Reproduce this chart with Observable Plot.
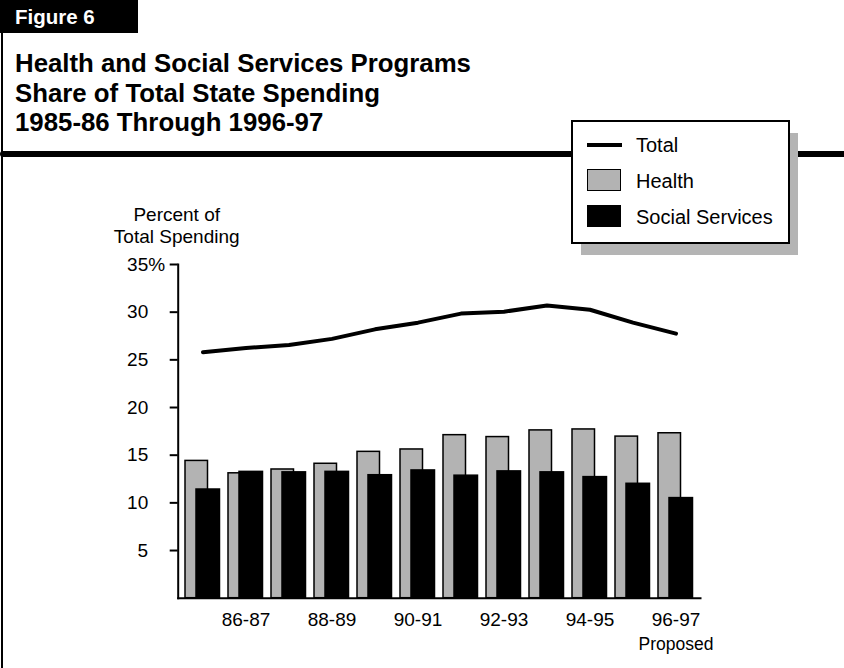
<!DOCTYPE html>
<html>
<head>
<meta charset="utf-8">
<script src="https://cdn.jsdelivr.net/npm/d3@7"></script>
<script src="https://cdn.jsdelivr.net/npm/@observablehq/plot@0.6"></script>
<style>
  html, body { margin: 0; padding: 0; background: #fff; }
  body { font-family: "Liberation Sans", Arial, Helvetica, sans-serif; color: #000; }
  #wrap { position: relative; width: 844px; height: 668px; overflow: hidden; }
  #chart { position: absolute; left: 0; top: 0; }
  .abs { position: absolute; }
  #figtab { left: 0; top: 0; width: 138px; height: 33px; background: #000; }
  #figtab span { position: absolute; left: 15px; top: 5px; color: #fff; font-weight: bold; font-size: 20.5px; line-height: 24px; }
  #leftline { left: 1px; top: 0; width: 2px; height: 668px; background: #000; }
  #title { left: 15px; top: 49px; font-weight: bold; font-size: 25.8px; line-height: 29.5px; white-space: nowrap; }
  #rule { left: 0; top: 151px; width: 844px; height: 6px; background: #000; border-radius: 3px 0 0 3px; }
  #shadow { left: 581px; top: 133px; width: 217px; height: 122px; background: #b4b4b4; }
  #legend { left: 571px; top: 120px; width: 215px; height: 120px; background: #fff; border: 2px solid #000; }
  .li { position: absolute; left: 63px; font-size: 20px; line-height: 24px; white-space: nowrap; }
  .sym { position: absolute; }
</style>
</head>
<body>
<div id="wrap">
  <div id="chart"></div>
  <div class="abs" id="leftline"></div>
  <div class="abs" id="figtab"><span>Figure 6</span></div>
  <div class="abs" id="title">Health and Social Services Programs<br>Share of Total State Spending<br>1985-86 Through 1996-97</div>
  <div class="abs" id="rule"></div>
  <div class="abs" id="shadow"></div>
  <div class="abs" id="legend"></div>
</div>
<script>
// ---- data ----
const years = ["85-86","86-87","87-88","88-89","89-90","90-91","91-92","92-93","93-94","94-95","95-96","96-97"];
const health = [14.4, 13.1, 13.5, 14.1, 15.35, 15.6, 17.1, 16.9, 17.6, 17.7, 16.95, 17.3];
const social = [11.4, 13.25, 13.2, 13.25, 12.9, 13.4, 12.85, 13.3, 13.2, 12.7, 12.0, 10.5];
const total  = [25.8, 26.25, 26.55, 27.2, 28.2, 28.9, 29.85, 30.05, 30.7, 30.25, 28.9, 27.75];
const xTicks = ["86-87","88-89","90-91","92-93","94-95","96-97"];
const yTicks = [5, 10, 15, 20, 25, 30, 35];
const yLabel = "Percent of\nTotal Spending";
const proposedNote = "Proposed";
const legendItems = [
  {name: "Total", kind: "line", color: "#000"},
  {name: "Health", kind: "box", color: "#b3b3b3"},
  {name: "Social Services", kind: "box", color: "#000"}
];

const rows = years.map((y, i) => ({year: y, health: health[i], social: social[i], total: total[i]}));

const chart = Plot.plot({
  width: 844,
  height: 668,
  marginLeft: 177.7,
  marginRight: 144,
  marginTop: 264,
  marginBottom: 70.3,
  style: {fontFamily: '"Liberation Sans", Arial, sans-serif', fontSize: "19px", background: "transparent", color: "#000"},
  x: {type: "band", domain: years, padding: 0, axis: null},
  y: {domain: [0, 35], axis: null},
  marks: [
    Plot.barY(rows, {x: "year", y: "health", fill: "#b3b3b3", stroke: "#000", strokeWidth: 1.5, insetLeft: 4, insetRight: 16.5}),
    Plot.barY(rows, {x: "year", y: "social", fill: "#000", stroke: "#000", strokeWidth: 1.5, insetLeft: 15, insetRight: 4.5}),
    Plot.line(rows, {x: "year", y: "total", stroke: "#000", strokeWidth: 4, strokeLinejoin: "round"}),
    Plot.axisY({ticks: yTicks, tickSize: 8, tickPadding: 22, strokeWidth: 2, fontSize: 19, label: null}),
    Plot.text([35], {y: d => d, text: () => "%", frameAnchor: "left", textAnchor: "start", dx: -30, fontSize: 19}),
    Plot.axisX({ticks: xTicks, tickSize: 0, tickPadding: 14, fontSize: 19, label: null}),
    Plot.text(["96-97"], {x: d => d, text: () => proposedNote, frameAnchor: "bottom", lineAnchor: "top", dy: 39, fontSize: 17.5}),
    Plot.text([yLabel], {text: d => d, frameAnchor: "top-left", textAnchor: "middle", lineAnchor: "bottom", dy: -22, dx: -1.5, lineHeight: 1.15, fontSize: 19}),
    Plot.frame({anchor: "left", strokeWidth: 2}),
    Plot.frame({anchor: "bottom", strokeWidth: 2})
  ]
});
document.getElementById("chart").appendChild(chart);

// legend (HTML)
const leg = document.getElementById("legend");
const tops = [11, 47, 83];
legendItems.forEach((it, i) => {
  const s = document.createElement("div");
  s.className = "sym";
  if (it.kind === "line") {
    s.style.cssText = `left:14px; top:${tops[i] + 10}px; width:35px; height:4px; background:${it.color};`;
  } else {
    s.style.cssText = `left:14px; top:${tops[i]}px; width:32px; height:20px; background:${it.color}; border:1.5px solid #000;`;
  }
  leg.appendChild(s);
  const t = document.createElement("div");
  t.className = "li";
  t.style.top = tops[i] + "px";
  t.textContent = it.name;
  leg.appendChild(t);
});
</script>
</body>
</html>
